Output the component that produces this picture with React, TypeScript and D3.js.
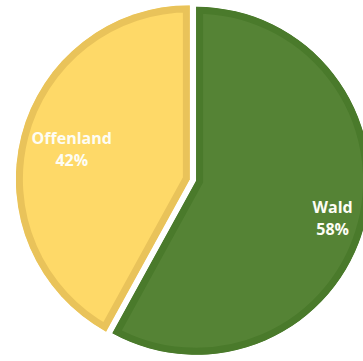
import React from "react";
import * as d3 from "d3";

const categories = ["Wald", "Offenland"];
const values = [58, 42];
const fillColors = ["#558335", "#FED968"];
const strokeColors = ["#4A7A2B", "#E9C35A"];

const W = 363;
const H = 361;
const CX = 193;
const CY = 180;
const R = 174;
const EXPLODE = 3.2;
const LABEL_R = [143, 122];
const LABEL_DY = [1, -1];

export default function App() {
  const pie = d3.pie<number>().value((d) => d).sort(null).startAngle(0).endAngle(2 * Math.PI);
  const arcs = pie(values);
  const arcGen = d3.arc<d3.PieArcDatum<number>>().innerRadius(0).outerRadius(R);
  const total = d3.sum(values);

  return (
    <svg
      width={W}
      height={H}
      style={{ position: "absolute", left: 0, top: 0, display: "block", background: "#fff" }}
    >
      <defs>
        {arcs.map((a, i) => (
          <clipPath id={`clip${i}`} key={i}>
            <path d={arcGen(a) || ""} />
          </clipPath>
        ))}
      </defs>
      {arcs.map((a, i) => {
        const mid = (a.startAngle + a.endAngle) / 2;
        const dx = Math.sin(mid) * EXPLODE;
        const dy = -Math.cos(mid) * EXPLODE;
        const lx = Math.sin(mid) * LABEL_R[i] - 2 * (i === 0 ? 1 : 0);
        const ly = -Math.cos(mid) * LABEL_R[i] + LABEL_DY[i];
        const pct = Math.round((values[i] / total) * 100);
        return (
          <g key={i} transform={`translate(${CX + dx},${CY + dy})`}>
            <path
              d={arcGen(a) || ""}
              fill={fillColors[i]}
              stroke={strokeColors[i]}
              strokeWidth={14}
              clipPath={`url(#clip${i})`}
            />
            <text
              x={lx}
              y={ly}
              textAnchor="middle"
              fill="#fdfdf5"
              fontFamily="'Open Sans', sans-serif"
              fontWeight={700}
              fontSize={16}
            >
              <tspan x={lx} dy={-4}>{categories[i]}</tspan>
              <tspan x={lx} dy={22}>{pct}%</tspan>
            </text>
          </g>
        );
      })}
    </svg>
  );
}
